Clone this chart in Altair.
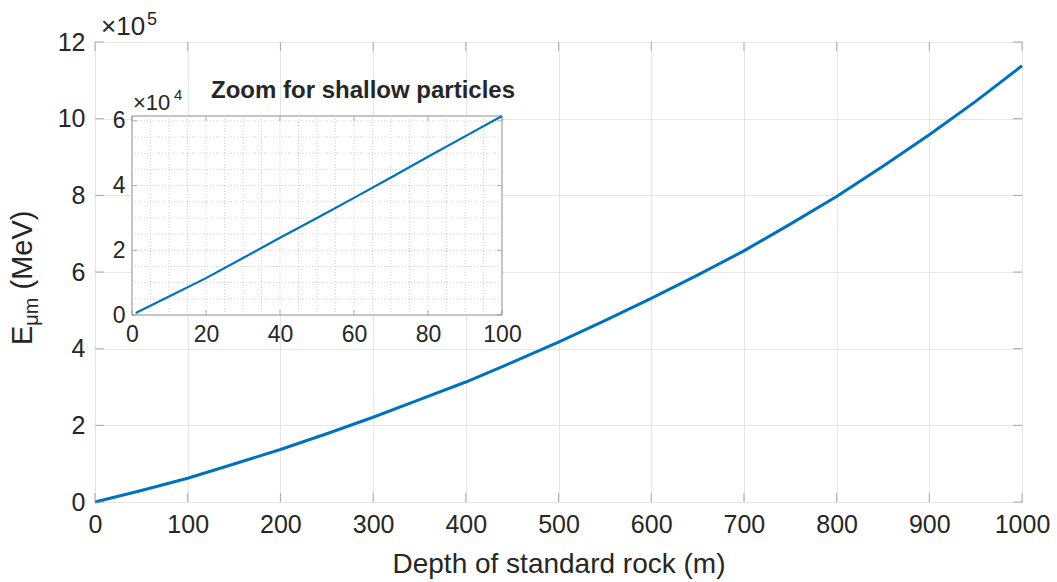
import altair as alt
import pandas as pd

# ---------------- data ----------------
# main curve: depth (m) vs E_mu_m in units of 1e5 MeV
depth_main = [0, 50, 100, 150, 200, 250, 300, 350, 400, 450, 500,
              550, 600, 650, 700, 750, 800, 850, 900, 950, 1000]
energy_main_e5 = [0.00, 0.30, 0.62, 0.99, 1.37, 1.78, 2.21, 2.67, 3.13, 3.64, 4.17,
                  4.73, 5.31, 5.92, 6.55, 7.25, 7.97, 8.76, 9.58, 10.45, 11.38]

# inset curve: depth (m) vs E_mu_m in units of 1e4 MeV
depth_zoom = [1, 10, 20, 30, 40, 50, 60, 70, 80, 90, 100]
energy_zoom_e4 = [0.06, 0.57, 1.14, 1.76, 2.39, 3.00, 3.62, 4.25, 4.89, 5.52, 6.15]

# tick / grid values
main_x_ticks = [0, 100, 200, 300, 400, 500, 600, 700, 800, 900, 1000]
main_y_ticks = [0, 2, 4, 6, 8, 10, 12]
zoom_x_ticks = [0, 20, 40, 60, 80, 100]
zoom_y_ticks = [0, 2, 4, 6]
zoom_x_grid = [5, 10, 15, 20, 25, 30, 35, 40, 45, 50, 55, 60, 65, 70, 75, 80, 85, 90, 95]
zoom_y_grid = [0.5, 1, 1.5, 2, 2.5, 3, 3.5, 4, 4.5, 5, 5.5, 6]
zoom_y_max = 6.15

# ---------------- styling ----------------
FONT = "Liberation Sans"
TXT = "#262626"
BOX = "#8c8c8c"
GRID = "#e6e6e6"
ZGRID = "#d2d2d2"
BLUE = "#0072BD"
W, H = 927, 460
ZX_RANGE = [37, 407]
ZY_RANGE = [273, 74]


def note(txt, x, y, size, weight="normal", angle=0):
    return alt.Chart(pd.DataFrame({"t": [txt]})).mark_text(
        font=FONT, fontSize=size, fontWeight=weight, color=TXT,
        align="left", baseline="alphabetic", angle=angle
    ).encode(x=alt.value(x), y=alt.value(y), text="t:N")


# ---------------- main plot ----------------
main_df = pd.DataFrame({"depth": depth_main, "e": energy_main_e5})
xs = alt.Scale(domain=[0, 1000], nice=False, zero=False)
ys = alt.Scale(domain=[0, 12], nice=False, zero=False)

main_line = alt.Chart(main_df).mark_line(color=BLUE, strokeWidth=3).encode(
    x=alt.X("depth:Q", scale=xs, axis=alt.Axis(
        values=main_x_ticks, format="d", title="Depth of standard rock (m)",
        grid=True, gridColor=GRID, gridWidth=1, ticks=False, tickSize=0, domain=False,
        labelFont=FONT, labelFontSize=25, labelColor=TXT, labelPadding=10,
        labelFlush=False, labelOverlap=False,
        titleFont=FONT, titleFontSize=28, titleFontWeight="normal", titleColor=TXT,
        titlePadding=13)),
    y=alt.Y("e:Q", scale=ys, axis=alt.Axis(
        values=main_y_ticks, format="d", title=None,
        grid=True, gridColor=GRID, gridWidth=1, ticks=False, tickSize=0, domain=False,
        labelFont=FONT, labelFontSize=25, labelColor=TXT, labelPadding=10,
        labelOverlap=False)),
)

xt_df = pd.DataFrame({"depth": main_x_ticks})
yt_df = pd.DataFrame({"e": main_y_ticks})
tick_style = dict(color=BOX, thickness=1, size=9)
main_ticks = [
    alt.Chart(xt_df).mark_tick(orient="vertical", yOffset=-4.5, **tick_style).encode(
        x="depth:Q", y=alt.datum(0)),
    alt.Chart(xt_df).mark_tick(orient="vertical", yOffset=4.5, **tick_style).encode(
        x="depth:Q", y=alt.datum(12)),
    alt.Chart(yt_df).mark_tick(orient="horizontal", xOffset=4.5, **tick_style).encode(
        y="e:Q", x=alt.datum(0)),
    alt.Chart(yt_df).mark_tick(orient="horizontal", xOffset=-4.5, **tick_style).encode(
        y="e:Q", x=alt.datum(1000)),
]

main_notes = [
    note("×10", 6, -7, 26),
    note("5", 52, -17, 18),
    note("E", -63.5, 303, 29, angle=270),
    note("μm", -57, 283.7, 20, angle=270),
    note("(MeV)", -63.5, 247.5, 29, angle=270),
]

main_group = alt.layer(main_line, *main_ticks, *main_notes)

# ---------------- inset ----------------
zx = alt.Scale(domain=[0, 100], range=ZX_RANGE, nice=False, zero=False)
zy = alt.Scale(domain=[0, zoom_y_max], range=ZY_RANGE, nice=False, zero=False)

frame_df = pd.DataFrame({"depth": [0], "depth2": [100], "e": [0], "e2": [zoom_y_max]})
frame = alt.Chart(frame_df).mark_rect(fill="white", stroke=BOX, strokeWidth=1).encode(
    x=alt.X("depth:Q", scale=zx, axis=alt.Axis(
        orient="bottom", offset=ZY_RANGE[0] - H, values=zoom_x_ticks, format="d",
        grid=False, ticks=False, tickSize=0, domain=False,
        labelFont=FONT, labelFontSize=23, labelColor=TXT, labelPadding=8,
        labelFlush=False, labelOverlap=False, title=None)),
    x2="depth2:Q",
    y=alt.Y("e:Q", scale=zy, axis=alt.Axis(
        orient="left", offset=-ZX_RANGE[0], values=zoom_y_ticks, format="d",
        grid=False, ticks=False, tickSize=0, domain=False,
        labelFont=FONT, labelFontSize=23, labelColor=TXT, labelPadding=7,
        labelOverlap=False, title=None)),
    y2="e2:Q",
)

zgx_df = pd.DataFrame({"depth": zoom_x_grid})
zgy_df = pd.DataFrame({"e": zoom_y_grid})
zgrid_x = alt.Chart(zgx_df).mark_rule(color=ZGRID, strokeWidth=1, strokeDash=[1, 2]).encode(
    x="depth:Q", y=alt.datum(0), y2=alt.datum(zoom_y_max))
zgrid_y = alt.Chart(zgy_df).mark_rule(color=ZGRID, strokeWidth=1, strokeDash=[1, 2]).encode(
    y="e:Q", x=alt.datum(0), x2=alt.datum(100))

zoom_df = pd.DataFrame({"depth": depth_zoom, "e": energy_zoom_e4})
zoom_line = alt.Chart(zoom_df).mark_line(color=BLUE, strokeWidth=2.2).encode(
    x="depth:Q", y="e:Q")

zxt_df = pd.DataFrame({"depth": zoom_x_ticks})
zyt_df = pd.DataFrame({"e": zoom_y_ticks})
ztick = dict(color=BOX, thickness=1, size=5)
zoom_ticks = [
    alt.Chart(zxt_df).mark_tick(orient="vertical", yOffset=-2.5, **ztick).encode(
        x="depth:Q", y=alt.datum(0)),
    alt.Chart(zxt_df).mark_tick(orient="vertical", yOffset=2.5, **ztick).encode(
        x="depth:Q", y=alt.datum(zoom_y_max)),
    alt.Chart(zyt_df).mark_tick(orient="horizontal", xOffset=2.5, **ztick).encode(
        y="e:Q", x=alt.datum(0)),
    alt.Chart(zyt_df).mark_tick(orient="horizontal", xOffset=-2.5, **ztick).encode(
        y="e:Q", x=alt.datum(100)),
]

zoom_notes = [
    note("×10", 38, 68, 22),
    note("4", 79, 58, 15),
    note("Zoom for shallow particles", 116, 56, 24, weight="bold"),
]

inset_group = alt.layer(frame, zgrid_x, zgrid_y, zoom_line, *zoom_ticks, *zoom_notes)

chart = alt.layer(main_group, inset_group).resolve_scale(
    x="independent", y="independent"
).properties(
    width=W, height=H,
    autosize=alt.AutoSizeParams(type="none"),
    padding={"left": 95, "top": 42, "right": 35, "bottom": 80},
    background="white",
).configure_view(stroke=BOX, strokeWidth=1)

chart.save("out.html", embed_options={"renderer": "svg", "actions": False})
